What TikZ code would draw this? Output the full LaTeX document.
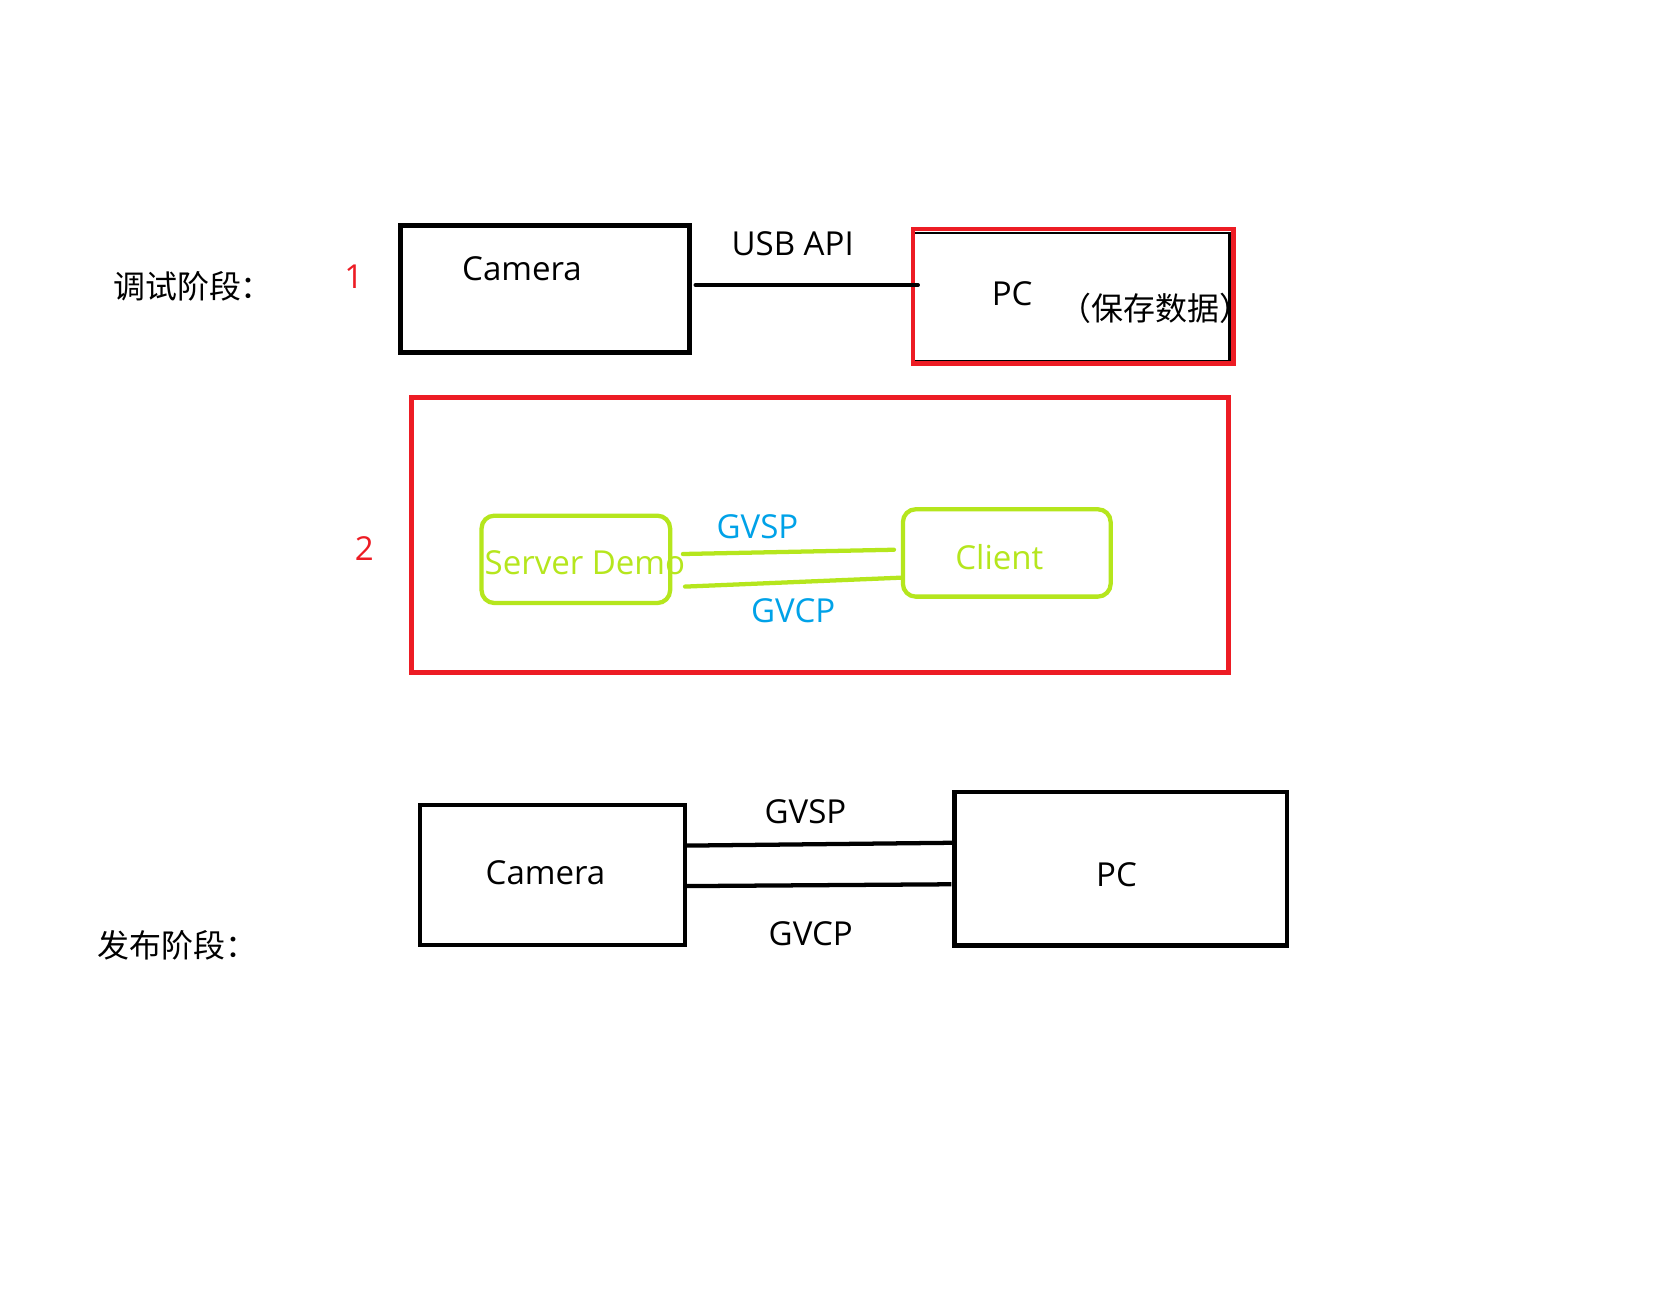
\documentclass[tikz,border=0pt]{standalone}
\usepackage{fontspec}
\setmainfont{Open Sans}
\newfontfamily\cjk{Noto Sans CJK SC}
\definecolor{paintred}{HTML}{ED1C24}
\definecolor{paintlime}{HTML}{B5E61D}
\definecolor{paintblue}{HTML}{00A2E8}
\begin{document}
\begin{tikzpicture}[x=1pt,y=-1pt]
        \tikzstyle{box}=[rectangle,draw=black,line width=4pt,inner sep=0pt,outer sep=0pt]
        \tikzstyle{redbox}=[rectangle,draw=paintred,line width=4.5pt,inner sep=0pt,outer sep=0pt]
        \tikzstyle{greenbox}=[rectangle,rounded corners=12pt,draw=paintlime,line width=4pt,inner sep=0pt,outer sep=0pt]
        \tikzstyle{txt}=[inner sep=0pt,font=\fontsize{31}{37}\selectfont]
        \tikzstyle{cn}=[inner sep=0pt,anchor=west,font=\cjk\fontsize{30}{36}\selectfont]
        \tikzstyle{wire}=[draw,line width=4pt]
        \tikzstyle{greenwire}=[draw=paintlime,line width=4pt,line cap=round]
        \path[fill=white,use as bounding box] (0,0) rectangle (1560,1232);
       % stage 1
       \begin{scope}
         \node [cn] (stage1) at (106,269) {调试阶段：};
         \node [txt,text=paintred] (num1) at (332,260) {1};
         \node [box,line width=4.7pt,minimum width=270.7pt,minimum height=118.9pt] (cam1) at (511.6,271.4) {};
         \node [txt] (cam1txt) at (490,252) {Camera};
         \node [txt] (usb) at (744,229) {USB API};
         \node [box,line width=2pt,minimum width=296pt,minimum height=120pt] (pc1in) at (1006,279) {};
         \node [txt] (pc1txt) at (950,276) {PC};
         \node [cn] (save) at (994,289) {（保存数据）};
         \node [redbox,line width=4.4pt,minimum width=301pt,minimum height=126pt] (pc1) at (1007.5,278) {};
         \path[wire,line width=3.8pt,line cap=round,shorten <=5.9pt,shorten >=-4.6pt] ([yshift=3.9pt]cam1.east) -- ([yshift=3.9pt]cam1.east -| pc1.west);
        \end{scope}
       % stage 2
       \begin{scope}
         \node [txt,text=paintred] (num2) at (342,515) {2};
         \node [redbox,line width=4.7pt,minimum width=766.3pt,minimum height=258.3pt] (frame) at (769.5,502.5) {};
         \node [greenbox,minimum width=177pt,minimum height=82pt] (srv) at (540.5,525) {};
         \node [greenbox,minimum width=195pt,minimum height=82pt] (cli) at (945,519) {};
         \node [txt,text=paintlime] (srvtxt) at (549,528.5) {Server Demo};
         \node [txt,text=paintlime] (clitxt) at (938,523) {Client};
         \node [txt,text=paintblue] (gvsp1) at (711,494.5) {GVSP};
         \node [txt,text=paintblue] (gvcp1) at (744.5,573) {GVCP};
         \path[greenwire] ([xshift=12pt,yshift=5pt]srv.east) -- ([xshift=-8.4pt,yshift=3pt]cli.west);
         \path[greenwire] ([xshift=14pt,yshift=-25.6pt]srv.east) -- ([xshift=-1.4pt,yshift=-23.2pt]cli.west);
        \end{scope}
       % release
       \begin{scope}
         \node [cn] (stage2) at (91,887) {发布阶段：};
         \node [box,line width=3.8pt,minimum width=248.7pt,minimum height=131pt] (cam2) at (518.75,821.5) {};
         \node [txt] (cam2txt) at (512,819) {Camera};
         \node [box,minimum width=312pt,minimum height=144pt] (pc2) at (1052,815.5) {};
         \node [txt] (pc2txt) at (1048,821) {PC};
         \node [txt] (gvsp2) at (756,762) {GVSP};
         \node [txt] (gvcp2) at (761,876) {GVCP};
         \path[wire] ([xshift=1.4pt,yshift=27.8pt]cam2.east) -- ([xshift=2pt,yshift=24.5pt]pc2.west);
         \path[wire] ([xshift=1.4pt,yshift=-10.2pt]cam2.east) -- ([xshift=-3pt,yshift=-14.5pt]pc2.west);
        \end{scope}
      \end{tikzpicture}
\end{document}
